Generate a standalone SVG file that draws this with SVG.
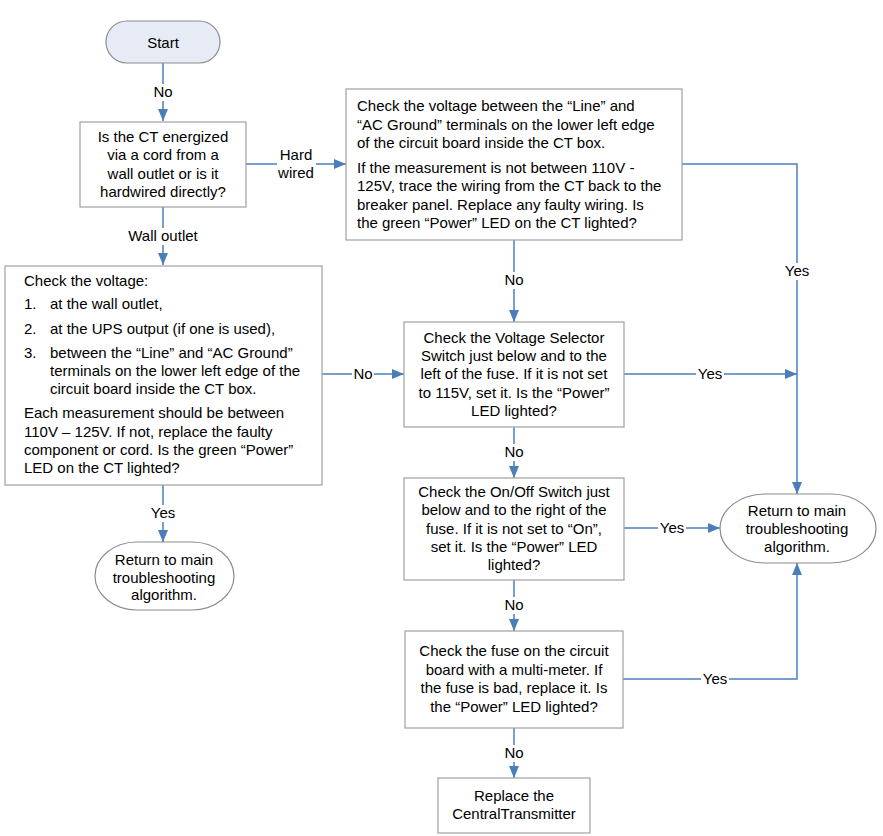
<svg xmlns="http://www.w3.org/2000/svg" width="883" height="836" viewBox="0 0 883 836">
<defs>
<marker id="arr" viewBox="0 0 12 10" refX="12" refY="5" markerWidth="12" markerHeight="10" orient="auto" markerUnits="userSpaceOnUse">
<path d="M0,0 L12,5 L0,10 z" fill="#4a7ebb"/>
</marker>
<style>
.box{fill:#fff;stroke:#a0a0a0;stroke-width:1.2}
.term{fill:#fff;stroke:#8c8c8c;stroke-width:1.2}
.start{fill:#e6ebf5;stroke:#8c8c8c;stroke-width:1.2}
.c{fill:none;stroke:#4a7ebb;stroke-width:1.5}
.a{marker-end:url(#arr)}
text{font-family:"Liberation Sans",Arial,sans-serif;font-size:15px;fill:#000}
.m{text-anchor:middle}
.lb{fill:#fff}
</style>
</defs>
<rect width="883" height="836" fill="#fff"/>

<g id="connectors">
<path class="c a" d="M163 63 V121"/>
<path class="c a" d="M246 164 H346"/>
<path class="c a" d="M163 207 V265"/>
<path class="c a" d="M163 485 V542"/>
<path class="c a" d="M322 374 H404"/>
<path class="c a" d="M514 240 V322"/>
<path class="c a" d="M682 164 H797 V494"/>
<path class="c a" d="M624 374 H797"/>
<path class="c a" d="M514 427 V478"/>
<path class="c a" d="M624 528 H720"/>
<path class="c a" d="M514 580 V631"/>
<path class="c a" d="M623 679 H797 V563"/>
<path class="c a" d="M514 728 V778"/>
<g id="labels">
<rect class="lb" x="152" y="84" width="22" height="17"/>
<text class="m" x="163" y="97">No</text>
<rect class="lb" x="277" y="146" width="39" height="36"/>
<text class="m" x="296" y="160">Hard</text>
<text class="m" x="296" y="178">wired</text>
<rect class="lb" x="126" y="228" width="74" height="17"/>
<text class="m" x="163" y="241">Wall outlet</text>
<rect class="lb" x="149" y="505" width="28" height="17"/>
<text class="m" x="163" y="518">Yes</text>
<rect class="lb" x="352" y="366" width="22" height="17"/>
<text class="m" x="363" y="379">No</text>
<rect class="lb" x="503" y="272" width="22" height="17"/>
<text class="m" x="514" y="285">No</text>
<rect class="lb" x="783" y="263" width="28" height="17"/>
<text class="m" x="797" y="276">Yes</text>
<rect class="lb" x="696" y="366" width="28" height="17"/>
<text class="m" x="710" y="379">Yes</text>
<rect class="lb" x="503" y="444" width="22" height="17"/>
<text class="m" x="514" y="457">No</text>
<rect class="lb" x="658" y="520" width="28" height="17"/>
<text class="m" x="672" y="533">Yes</text>
<rect class="lb" x="503" y="597" width="22" height="17"/>
<text class="m" x="514" y="610">No</text>
<rect class="lb" x="701" y="671" width="28" height="17"/>
<text class="m" x="715" y="684">Yes</text>
<rect class="lb" x="503" y="745" width="22" height="17"/>
<text class="m" x="514" y="758">No</text>
</g>
</g>

<g id="start">
<rect class="start" x="106" y="21" width="114" height="42" rx="21" ry="21"/>
<text class="m" x="163" y="47.5">Start</text>
</g>

<g id="q-energized">
<rect class="box" x="80" y="122" width="166" height="85"/>
<text class="m" x="163" y="142">Is the CT energized</text>
<text class="m" x="163" y="160.3">via a cord from a</text>
<text class="m" x="163" y="178.6">wall outlet or is it</text>
<text class="m" x="163" y="197">hardwired directly?</text>
</g>

<g id="check-hardwired">
<rect class="box" x="346" y="89" width="336" height="151"/>
<text x="357" y="111">Check the voltage between the “Line” and</text>
<text x="357" y="129.5">“AC Ground” terminals on the lower left edge</text>
<text x="357" y="148">of the circuit board inside the CT box.</text>
<text x="357" y="172.5">If the measurement is not between 110V -</text>
<text x="357" y="191">125V, trace the wiring from the CT back to the</text>
<text x="357" y="209.5">breaker panel. Replace any faulty wiring. Is</text>
<text x="357" y="228">the green “Power” LED on the CT lighted?</text>
</g>

<g id="check-wall">
<rect class="box" x="5" y="266" width="317" height="219"/>
<text x="24" y="286">Check the voltage:</text>
<text x="24" y="309">1.</text>
<text x="50" y="309">at the wall outlet,</text>
<text x="24" y="334">2.</text>
<text x="50" y="334">at the UPS output (if one is used),</text>
<text x="24" y="358">3.</text>
<text x="50" y="358">between the “Line” and “AC Ground”</text>
<text x="50" y="376">terminals on the lower left edge of the</text>
<text x="50" y="394">circuit board inside the CT box.</text>
<text x="24" y="418">Each measurement should be between</text>
<text x="24" y="437">110V – 125V. If not, replace the faulty</text>
<text x="24" y="455">component or cord. Is the green “Power”</text>
<text x="24" y="473">LED on the CT lighted?</text>
</g>

<g id="return-left">
<rect class="term" x="95" y="542" width="139" height="68" rx="42" ry="34"/>
<text class="m" x="164" y="565">Return to main</text>
<text class="m" x="164" y="582.5">troubleshooting</text>
<text class="m" x="164" y="600">algorithm.</text>
</g>

<g id="voltage-selector">
<rect class="box" x="404" y="322" width="220" height="105"/>
<text class="m" x="514" y="343">Check the Voltage Selector</text>
<text class="m" x="514" y="361">Switch just below and to the</text>
<text class="m" x="514" y="379">left of the fuse. If it is not set</text>
<text class="m" x="514" y="397.5">to 115V, set it. Is the “Power”</text>
<text class="m" x="514" y="416">LED lighted?</text>
</g>

<g id="on-off">
<rect class="box" x="404" y="478" width="220" height="102"/>
<text class="m" x="514" y="497">Check the On/Off Switch just</text>
<text class="m" x="514" y="515">below and to the right of the</text>
<text class="m" x="514" y="533.5">fuse. If it is not set to “On”,</text>
<text class="m" x="514" y="552">set it. Is the “Power” LED</text>
<text class="m" x="514" y="570">lighted?</text>
</g>

<g id="fuse">
<rect class="box" x="405" y="631" width="218" height="97"/>
<text class="m" x="514" y="656">Check the fuse on the circuit</text>
<text class="m" x="514" y="674.5">board with a multi-meter. If</text>
<text class="m" x="514" y="693">the fuse is bad, replace it. Is</text>
<text class="m" x="514" y="711.5">the “Power” LED lighted?</text>
</g>

<g id="replace">
<rect class="box" x="438" y="778" width="152" height="55"/>
<text class="m" x="514" y="801">Replace the</text>
<text class="m" x="514" y="818.5">CentralTransmitter</text>
</g>

<g id="return-right">
<rect class="term" x="720" y="494" width="156" height="69" rx="45" ry="34.5"/>
<text class="m" x="797" y="516">Return to main</text>
<text class="m" x="797" y="534">troubleshooting</text>
<text class="m" x="797" y="552">algorithm.</text>
</g>
</svg>
